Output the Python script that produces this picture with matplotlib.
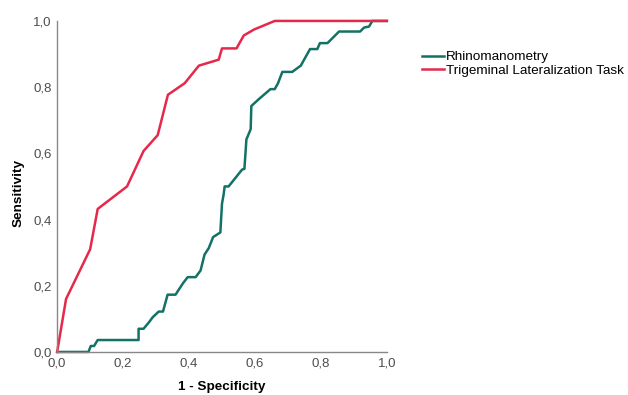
import matplotlib.pyplot as plt
from matplotlib.ticker import FuncFormatter

plt.rcParams['font.family'] = ['Liberation Sans', 'DejaVu Sans']

# ROC curves
rhino_fpr = [0.0, 0.095, 0.102, 0.112, 0.123, 0.247, 0.247, 0.262, 0.278, 0.29, 0.308, 0.321,
             0.335, 0.359, 0.382, 0.396, 0.42, 0.435, 0.447, 0.46, 0.473, 0.495, 0.50, 0.505,
             0.508, 0.52, 0.561, 0.568, 0.574, 0.587, 0.589, 0.612, 0.647, 0.66, 0.67, 0.683,
             0.713, 0.739, 0.767, 0.789, 0.797, 0.82, 0.855, 0.919, 0.931, 0.946, 0.956, 1.0]
rhino_tpr = [0.0, 0.0, 0.018, 0.018, 0.036, 0.036, 0.07, 0.07, 0.089, 0.105, 0.122, 0.122,
             0.173, 0.173, 0.208, 0.226, 0.226, 0.246, 0.294, 0.314, 0.347, 0.361, 0.448, 0.476,
             0.50, 0.50, 0.551, 0.553, 0.642, 0.673, 0.743, 0.764, 0.794, 0.794, 0.812, 0.846,
             0.846, 0.865, 0.915, 0.915, 0.933, 0.933, 0.968, 0.968, 0.98, 0.983, 1.0, 1.0]

trig_fpr = [0.0, 0.027, 0.10, 0.123, 0.212, 0.262, 0.305, 0.336, 0.387, 0.43, 0.49, 0.50,
            0.544, 0.566, 0.597, 0.66, 1.0]
trig_tpr = [0.0, 0.16, 0.31, 0.432, 0.50, 0.607, 0.655, 0.777, 0.812, 0.865, 0.883, 0.917,
            0.917, 0.956, 0.974, 1.0, 1.0]

ticks = [0.0, 0.2, 0.4, 0.6, 0.8, 1.0]

fig = plt.figure(figsize=(6.28, 3.95), dpi=100)
ax = fig.add_axes([0.091, 0.109, 0.525, 0.838])

ax.plot(rhino_fpr, rhino_tpr, color='#137265', lw=1.8, label='Rhinomanometry', clip_on=False)
ax.plot(trig_fpr, trig_tpr, color='#e5294a', lw=1.8, label='Trigeminal Lateralization Task',
        clip_on=False)

ax.set_xlim(0, 1)
ax.set_ylim(0, 1)
ax.set_xticks(ticks)
ax.set_yticks(ticks)
fmt = FuncFormatter(lambda v, p: f'{v:.1f}'.replace('.', ','))
ax.xaxis.set_major_formatter(fmt)
ax.yaxis.set_major_formatter(fmt)
ax.tick_params(length=0, labelsize=9.5, labelcolor='#4d4d4d')
ax.tick_params(axis='x', pad=4)
ax.tick_params(axis='y', pad=4)

for s in ['top', 'right']:
    ax.spines[s].set_visible(False)
for s in ['left', 'bottom']:
    ax.spines[s].set_color('#888888')
    ax.spines[s].set_linewidth(1.0)

ax.set_xlabel('1 - Specificity', fontsize=9.7, fontweight='bold', va='center')
ax.xaxis.set_label_coords(0.5, -0.105)
ax.set_ylabel('Sensitivity', fontsize=9.7, fontweight='bold', va='center')
ax.yaxis.set_label_coords(-0.118, 0.48)

fig.legend(loc='upper left', bbox_to_anchor=(422 / 628, 1 - 51 / 395), frameon=False,
           fontsize=9.7, handlelength=1.65, handletextpad=0.15, labelspacing=0.05,
           borderpad=0, borderaxespad=0)

fig.savefig('out.png', dpi=100)
